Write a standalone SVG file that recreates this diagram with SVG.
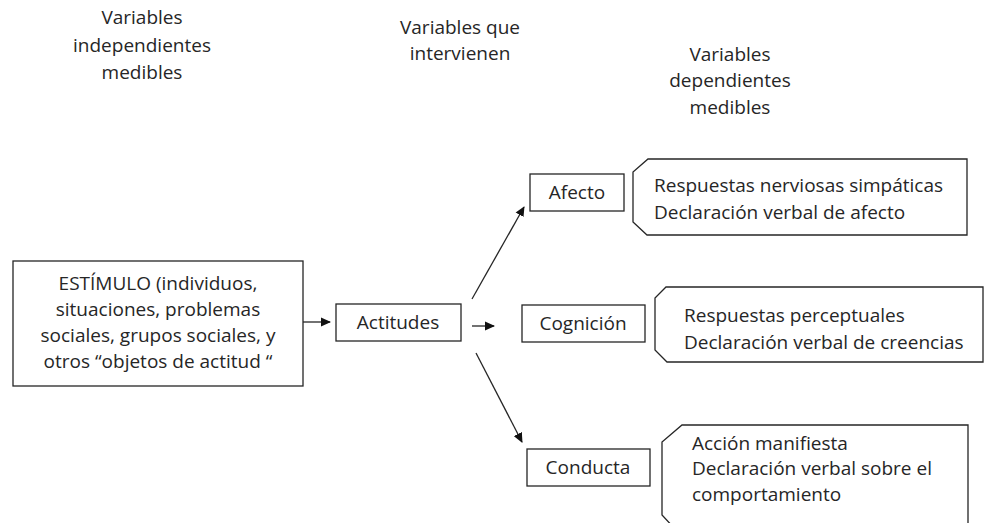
<svg xmlns="http://www.w3.org/2000/svg" width="987" height="523" viewBox="0 0 987 523">
<defs>
<style>
text{font-family:"Open Sans","Liberation Sans",sans-serif;fill:#262626;}
.h{font-size:19px;text-anchor:middle;}
.t{font-size:19px;}
.c{text-anchor:middle;}
.box{fill:#fff;stroke:#262626;stroke-width:1.3;}
.con{stroke:#262626;stroke-width:1.3;fill:none;marker-end:url(#ah);}
</style>
<marker id="ah" viewBox="0 0 10 10" refX="9" refY="5" markerWidth="10" markerHeight="10" markerUnits="userSpaceOnUse" orient="auto">
<path d="M0,0.5 L10,5 L0,9.5 Z" fill="#111"/>
</marker>
</defs>
<rect width="987" height="523" fill="#fff"/>

<g id="headers">
<text class="h" x="142" y="24">Variables</text>
<text class="h" x="142" y="52">independientes</text>
<text class="h" x="142" y="79">medibles</text>
<text class="h" x="460" y="34">Variables que</text>
<text class="h" x="460" y="60">intervienen</text>
<text class="h" x="730" y="61">Variables</text>
<text class="h" x="730" y="87">dependientes</text>
<text class="h" x="730" y="114">medibles</text>
</g>

<g id="connectors">
<line class="con" x1="303" y1="322" x2="330" y2="322"/>
<line class="con" x1="472" y1="326" x2="494" y2="326"/>
<line class="con" x1="472" y1="299" x2="524" y2="207"/>
<line class="con" x1="476" y1="353" x2="522" y2="442"/>
</g>

<g id="estimulo">
<rect class="box" x="13" y="261" width="290" height="125"/>
<text class="t c" x="158" y="290">ESTÍMULO (individuos,</text>
<text class="t c" x="158" y="316">situaciones, problemas</text>
<text class="t c" x="158" y="342">sociales, grupos sociales, y</text>
<text class="t c" x="158" y="368">otros “objetos de actitud “</text>
</g>

<g id="actitudes">
<rect class="box" x="336" y="304" width="125" height="37"/>
<text class="t c" x="398" y="329">Actitudes</text>
</g>

<g id="afecto">
<rect class="box" x="530" y="174" width="94" height="37"/>
<text class="t c" x="577" y="199">Afecto</text>
</g>

<g id="cognicion">
<rect class="box" x="522" y="305" width="123" height="37"/>
<text class="t c" x="583" y="330">Cognición</text>
</g>

<g id="conducta">
<rect class="box" x="527" y="449" width="123" height="37"/>
<text class="t c" x="588" y="474">Conducta</text>
</g>

<g id="afecto-medidas">
<path class="box" d="M648,159 H967 V235 H647 L633,222 V172 Z"/>
<text class="t" x="654" y="192">Respuestas nerviosas simpáticas</text>
<text class="t" x="654" y="219">Declaración verbal de afecto</text>
</g>

<g id="cognicion-medidas">
<path class="box" d="M666,287 H983 V362 H667 L655,350 V298 Z"/>
<text class="t" x="684" y="322">Respuestas perceptuales</text>
<text class="t" x="684" y="349">Declaración verbal de creencias</text>
</g>

<g id="conducta-medidas">
<path class="box" d="M682,425 H968 V545 H690 L662,515 V442 Z"/>
<text class="t" x="692" y="450">Acción manifiesta</text>
<text class="t" x="692" y="475">Declaración verbal sobre el</text>
<text class="t" x="692" y="501">comportamiento</text>
</g>
</svg>
